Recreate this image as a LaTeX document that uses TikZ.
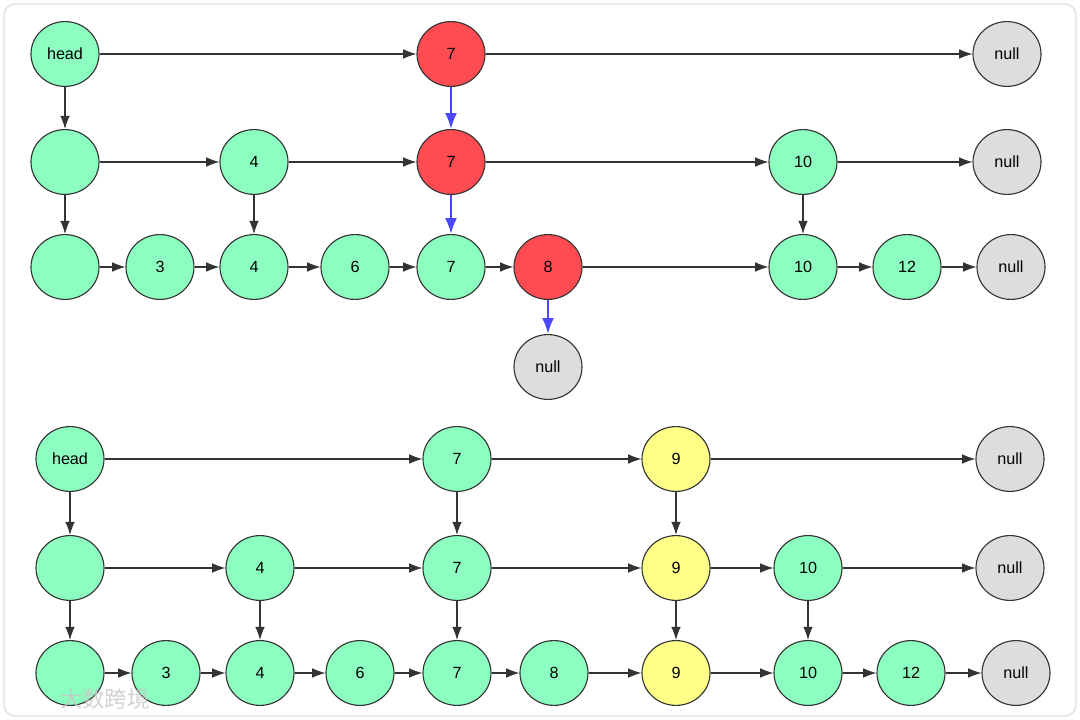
\documentclass[tikz,border=0pt]{standalone}
\usepackage{fontspec}
\setmainfont{Liberation Sans}
\newfontfamily\cjk{Noto Sans CJK SC}
\usetikzlibrary{arrows.meta,shapes.geometric}
\definecolor{ngreen}{RGB}{140,255,192}
\definecolor{nred}{RGB}{255,76,82}
\definecolor{nyellow}{RGB}{255,255,136}
\definecolor{ngray}{RGB}{221,221,221}
\definecolor{nline}{RGB}{51,51,51}
\definecolor{nblue}{RGB}{76,70,255}

\begin{document}
\begin{tikzpicture}[x=0.025cm,y=-0.025cm,
  nd/.style={ellipse,draw=nline,line width=0.8pt,minimum width=1.7cm,minimum height=1.62cm,inner sep=0pt,font=\fontsize{11.5}{13}\selectfont},
  gn/.style={nd,fill=ngreen},
  rd/.style={nd,fill=nred},
  yw/.style={nd,fill=nyellow},
  nl/.style={nd,fill=ngray},
  lk/.style={-{Latex[length=3.3mm,width=2.4mm]},nline,line width=0.8pt},
  bl/.style={-{Latex[length=4mm,width=3mm]},nblue,line width=1.6pt}]
\useasboundingbox (0,0) rectangle (1080,720);
\draw[gray!25,line width=1pt,rounded corners=8] (4,4) rectangle (1076,716);

% top: search for 8
\node[gn] (thead) at (65,54) {head};
\node[rd] (t17) at (451,54) {7};
\node[nl] (tnull1) at (1007,54) {null};
\node[gn] (t20) at (65,162) {};
\node[gn] (t24) at (254,162) {4};
\node[rd] (t27) at (451,162) {7};
\node[gn] (t210) at (803,162) {10};
\node[nl] (tnull2) at (1007,162) {null};
\node[gn] (t30) at (65,267) {};
\node[gn] (t33) at (160,267) {3};
\node[gn] (t34) at (254,267) {4};
\node[gn] (t36) at (355,267) {6};
\node[gn] (t37) at (451,267) {7};
\node[rd] (t38) at (548,267) {8};
\node[gn] (t310) at (803,267) {10};
\node[gn] (t312) at (907,267) {12};
\node[nl] (tnull3) at (1011,267) {null};
\node[nl] (tnull4) at (548,367) {null};

\draw[lk] (thead) -- (t17);
\draw[lk] (t17) -- (tnull1);
\draw[lk] (t20) -- (t24);
\draw[lk] (t24) -- (t27);
\draw[lk] (t27) -- (t210);
\draw[lk] (t210) -- (tnull2);
\draw[lk] (t30) -- (t33);
\draw[lk] (t33) -- (t34);
\draw[lk] (t34) -- (t36);
\draw[lk] (t36) -- (t37);
\draw[lk] (t37) -- (t38);
\draw[lk] (t38) -- (t310);
\draw[lk] (t310) -- (t312);
\draw[lk] (t312) -- (tnull3);
\draw[lk] (thead) -- (t20);
\draw[lk] (t20) -- (t30);
\draw[lk] (t24) -- (t34);
\draw[lk] (t210) -- (t310);
\draw[bl] (t17) -- (t27);
\draw[bl] (t27) -- (t37);
\draw[bl] (t38) -- (tnull4);

% bottom: after inserting 9
\node[gn] (bhead) at (70,459) {head};
\node[gn] (b17) at (457,459) {7};
\node[yw] (b19) at (676,459) {9};
\node[nl] (bnull1) at (1010,459) {null};
\node[gn] (b20) at (70,568) {};
\node[gn] (b24) at (260,568) {4};
\node[gn] (b27) at (457,568) {7};
\node[yw] (b29) at (676,568) {9};
\node[gn] (b210) at (808,568) {10};
\node[nl] (bnull2) at (1010,568) {null};
\node[gn] (b30) at (70,673) {};
\node[gn] (b33) at (166,673) {3};
\node[gn] (b34) at (260,673) {4};
\node[gn] (b36) at (360,673) {6};
\node[gn] (b37) at (457,673) {7};
\node[gn] (b38) at (554,673) {8};
\node[yw] (b39) at (676,673) {9};
\node[gn] (b310) at (808,673) {10};
\node[gn] (b312) at (911,673) {12};
\node[nl] (bnull3) at (1016,673) {null};

\draw[lk] (bhead) -- (b17);
\draw[lk] (b17) -- (b19);
\draw[lk] (b19) -- (bnull1);
\draw[lk] (b20) -- (b24);
\draw[lk] (b24) -- (b27);
\draw[lk] (b27) -- (b29);
\draw[lk] (b29) -- (b210);
\draw[lk] (b210) -- (bnull2);
\draw[lk] (b30) -- (b33);
\draw[lk] (b33) -- (b34);
\draw[lk] (b34) -- (b36);
\draw[lk] (b36) -- (b37);
\draw[lk] (b37) -- (b38);
\draw[lk] (b38) -- (b39);
\draw[lk] (b39) -- (b310);
\draw[lk] (b310) -- (b312);
\draw[lk] (b312) -- (bnull3);
\draw[lk] (bhead) -- (b20);
\draw[lk] (b20) -- (b30);
\draw[lk] (b24) -- (b34);
\draw[lk] (b17) -- (b27);
\draw[lk] (b27) -- (b37);
\draw[lk] (b19) -- (b29);
\draw[lk] (b29) -- (b39);
\draw[lk] (b210) -- (b310);

% watermark
\node[text=gray!45,opacity=0.8,font=\cjk\fontsize{16}{18}\selectfont] (wm) at (105,699) {大数跨境};
\end{tikzpicture}
\end{document}
